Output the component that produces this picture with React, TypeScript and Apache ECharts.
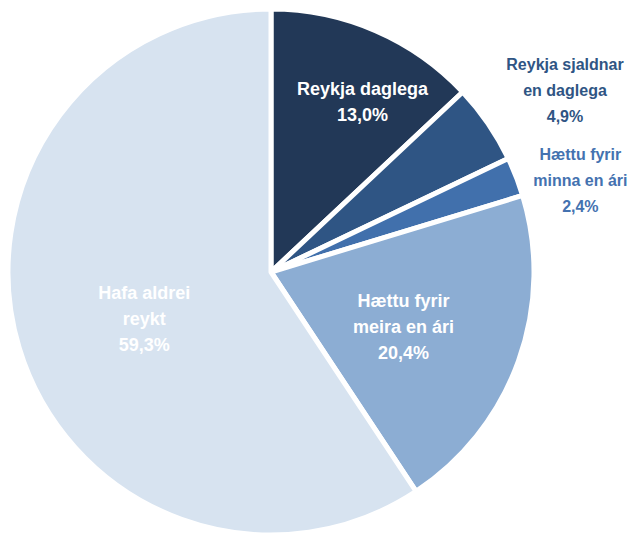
import React, { useEffect, useRef } from "react";
import * as echarts from "echarts";

const categories = [
  "Reykja daglega",
  "Reykja sjaldnar\nen daglega",
  "Hættu fyrir\nminna en ári",
  "Hættu fyrir\nmeira en ári",
  "Hafa aldrei\nreykt",
];
const values = [13.0, 4.9, 2.4, 20.4, 59.3];
const colors = ["#223857", "#2F5584", "#4170AC", "#8CADD3", "#D7E3F0"];
const labelColors = ["#FFFFFF", "#2F5584", "#4472B0", "#FFFFFF", "#FFFFFF"];
const labelSizes = [18, 16, 16, 18, 18];
const labelOffsets: [number, number][] = [
  [38, -47],
  [183, -106],
  [184, -43],
  [6, 9],
  [2, 8],
];

export default function App() {
  const ref = useRef<HTMLDivElement>(null);
  useEffect(() => {
    document.body.style.margin = "0";
    const chart = echarts.init(ref.current!, undefined, { renderer: "svg" });
    chart.setOption({
      animation: false,
      series: [
        {
          type: "pie",
          center: [271, 272],
          radius: [0, 263],
          startAngle: 90,
          clockwise: true,
          avoidLabelOverlap: false,
          labelLine: { show: false },
          itemStyle: { borderColor: "#FFFFFF", borderWidth: 5 },
          label: {
            show: true,
            position: "inside",
            fontFamily: "'Liberation Sans Narrow', 'Arial Narrow', 'Liberation Sans', sans-serif",
            fontWeight: "bold",
            fontSize: 18,
            lineHeight: 26,
            align: "center",
            formatter: (p: any) => `${p.name}\n${p.value.toFixed(1).replace(".", ",")}%`,
          },
          emphasis: { disabled: true },
          data: categories.map((c, i) => ({
            name: c,
            value: values[i],
            itemStyle: { color: colors[i] },
            label: { color: labelColors[i], offset: labelOffsets[i], fontSize: labelSizes[i] },
          })),
        },
      ],
    });
    return () => chart.dispose();
  }, []);
  return <div ref={ref} style={{ width: 633, height: 536 }} />;
}
